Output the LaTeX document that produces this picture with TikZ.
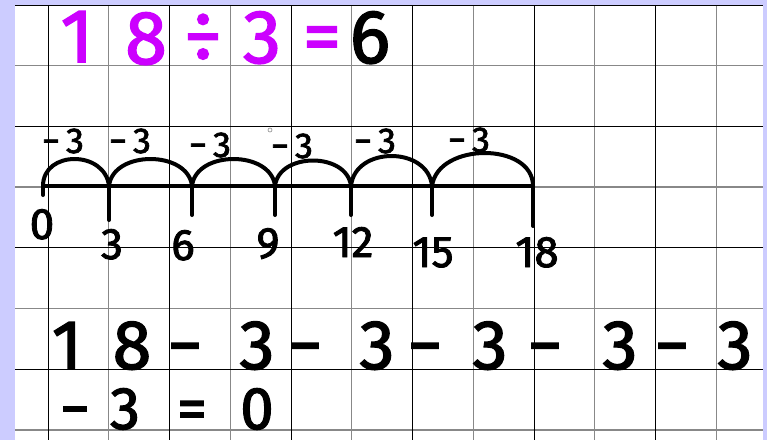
\documentclass[tikz,border=0pt]{standalone}
\usepackage{fontspec}
\setmainfont{Fira Sans}
\newfontfamily\handfont{Fira Sans}[FakeBold=2]
\definecolor{lavender}{HTML}{CCCCFF}
\definecolor{pen}{HTML}{CC00FF}
\definecolor{gridgray}{HTML}{888888}
\tikzset{
  big/.style={font=\handfont\fontsize{76}{76}\selectfont, inner sep=0pt, anchor=base},
  row/.style={font=\handfont\fontsize{70}{70}\selectfont, inner sep=0pt, anchor=base},
  lastrow/.style={font=\handfont\fontsize{60}{60}\selectfont, inner sep=0pt, anchor=base},
  numlbl/.style={font=\handfont\fontsize{44}{44}\selectfont, inner sep=0pt, anchor=base},
  jumplbl/.style={font=\handfont\fontsize{36}{36}\selectfont, inner sep=0pt, anchor=base},
  ink/.style={line width=4pt, line cap=round, line join=round},
}
\begin{document}
\begin{tikzpicture}[x=1pt,y=-1pt]
    \fill[lavender] (0,0) rectangle (767,440);
    \fill[white] (15,5) rectangle (763,440);
    \useasboundingbox (0,0) rectangle (767,440);
    % squared paper
    \foreach \x in {108.75,230.25,351.75,473.25,594.75,716.25} \draw[gridgray, line width=1.3pt] (\x,5) -- (\x,440);
    \foreach \y in {65.7,187.1,308.5,429.9} \draw[gridgray, line width=1.3pt] (15,\y) -- (763,\y);
    \foreach \x in {48,169.5,291,412.5,534,655.5} \draw[black, line width=1pt] (\x,5) -- (\x,440);
    \foreach \y in {5,126.4,247.8,369.2} \draw[black, line width=1pt] (15,\y) -- (763,\y);
    % division sentence
    \node[big, pen] (d1) at (77,62) {1};
    \node[big, pen] (d8) at (146,64) {8};
    \node[big, pen] (ddiv) at (203,62) {÷};
    \node[big, pen] (d3) at (262,63) {3};
    \node[big, pen] (deq) at (322,62) {=};
    \node[big] (d6) at (370,63) {6};
    % number line
    \foreach \v/\x/\t in {0/43/195, 3/109/220, 6/192/215, 9/275/215, 12/351/215, 15/432/215, 18/533/226} {
        \coordinate (p\v) at (\x,186);
        \coordinate (t\v) at (\x,\t);
    }
    \draw[ink] (p0) -- (p18);
    \foreach \v in {0,3,...,18} \draw[ink] (p\v) -- (t\v);
    \draw[ink] (p0) .. controls +(0,-36) and +(-4,-36) .. (p3)
                    .. controls +(4,-36) and +(-4,-36) .. (p6)
                    .. controls +(4,-36) and +(-4,-36) .. (p9)
                    .. controls +(4,-34) and +(-4,-34) .. (p12)
                    .. controls +(4,-40) and +(-4,-40) .. (p15)
                    .. controls +(6,-44) and +(0,-44) .. (p18);
    % jumps
    \foreach \x/\y/\n in {63/153/a, 130/153/b, 210/157/c, 292/158/d, 375/153/e, 469/152/f}
        \node[jumplbl] (j\n) at (\x,\y) {−\,3};
    \draw[gridgray, line width=0.6pt] (270,130) circle (2);
    % marks
    \foreach \x/\y/\v in {42/239/0, 112/259/3, 183/260/6, 268/258/9, 353/257/12, 433/267/15, 537/267/18}
        \node[numlbl] (m\v) at (\x,\y) {\v};
    % repeated subtraction
    \foreach \x/\t/\n in {67/1/a, 132/8/b, 185/−/c, 257/3/d, 305/−/e, 377/3/f, 425/−/g, 490/3/h, 545/−/i, 620/3/j, 672/−/k, 735/3/l}
        \node[row] (r\n) at (\x,369) {\t};
    \foreach \x/\t/\n in {75/−/a, 125/3/b, 192/=/c, 257/0/d}
        \node[lastrow] (s\n) at (\x,429) {\t};
\end{tikzpicture}
\end{document}
